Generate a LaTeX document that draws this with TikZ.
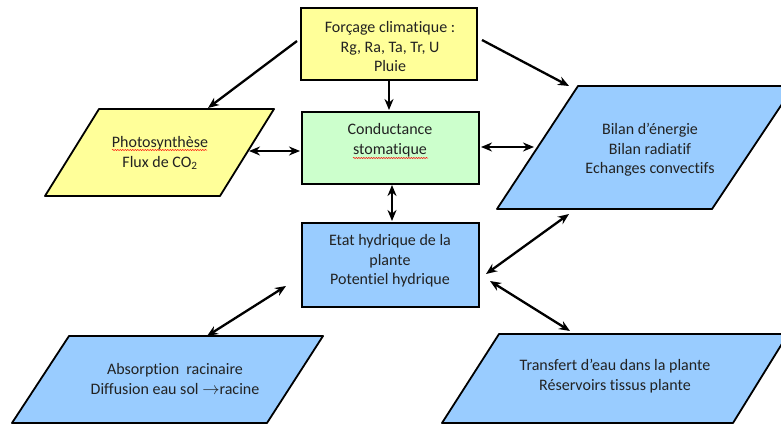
\documentclass[tikz,border=0pt]{standalone}
\usepackage{fontspec}
\setmainfont{Carlito}[Ligatures=NoCommon]
\usetikzlibrary{arrows.meta,decorations.pathmorphing}
\definecolor{fyel}{HTML}{FFFF99}
\definecolor{fgrn}{HTML}{CCFFCC}
\definecolor{fblu}{HTML}{99CCFF}
\definecolor{txt}{HTML}{222222}
\begin{document}
\begin{tikzpicture}[x=1pt,y=-1pt,
 box/.style={draw=black, line width=1.8pt, inner sep=0pt},
 shp/.style={draw=black, line width=1.8pt, line join=round},
 lbl/.style={align=center, text=txt, font=\fontsize{16}{19.5}\selectfont, inner sep=0pt},
 arr/.style={line width=2.3pt, -{Stealth[length=11pt,width=9pt]}},
 darr/.style={line width=2.3pt, {Stealth[length=11pt,width=9pt]}-{Stealth[length=11pt,width=9pt]}},
 squig/.style={red, line width=0.5pt, decorate, decoration={snake, amplitude=0.6pt, segment length=2.5pt}}]
\useasboundingbox (0,0) rectangle (781,425);
\fill[white] (0,0) rectangle (781,425);
\begin{scope}
\clip (0,0) rectangle (781,425);
% parallelograms
\draw[shp, fill=fyel] (99,109) -- (274,109) -- (220,196) -- (45,196) -- cycle;
\draw[shp, fill=fblu] (578,86) -- (794,86) -- (712,209) -- (497,209) -- cycle;
\draw[shp, fill=fblu] (69,336) -- (323,336) -- (267,423) -- (12,423) -- cycle;
\draw[shp, fill=fblu] (499,334) -- (788,334) -- (733,423) -- (442,423) -- cycle;
\end{scope}
% rectangles
\node[box, fill=fyel, minimum width=176pt, minimum height=72pt] (forc) at (389,44) {};
\node[box, fill=fgrn, minimum width=177pt, minimum height=72pt] (cond) at (390.5,148) {};
\node[box, fill=fblu, minimum width=177pt, minimum height=84pt] (etat) at (390.5,265) {};
% texts
\node[lbl] (tforc) at (390,47) {Forçage climatique :\\Rg, Ra, Ta, Tr, U\\Pluie};
\node[lbl] (tcond) at (390,140) {Conductance\\stomatique};
\node[lbl] (tetat) at (390,261) {Etat hydrique de la\\plante\\Potentiel hydrique};
\node[lbl] (tphot) at (160,153) {Photosynthèse\\Flux de CO\textsubscript{2}};
\node[lbl] (tbil) at (650,150) {Bilan d’énergie\\Bilan radiatif\\Echanges convectifs};
\node[lbl] (tabs) at (175,379) {Absorption\ \ racinaire\\Diffusion eau sol $\rightarrow$racine};
\node[lbl] (ttra) at (615,376) {Transfert d’eau dans la plante\\Réservoirs tissus plante};
% spell-check squiggles
\draw[squig] (112,150) -- (207,150);
\draw[squig] (353,158) -- (428,158);
% connector end points
\coordinate (a1s) at (297,41);   \coordinate (a1e) at (208,108);
\coordinate (a2s) at (389,81);   \coordinate (a2e) at (389,110);
\coordinate (a3s) at (482,40);   \coordinate (a3e) at (569,86);
\coordinate (a4s) at (249,151);  \coordinate (a4e) at (300,151);
\coordinate (a5s) at (481,147);  \coordinate (a5e) at (534,147);
\coordinate (a6s) at (392,185);  \coordinate (a6e) at (392,221);
\coordinate (a7s) at (207,336);  \coordinate (a7e) at (286,286);
\coordinate (a8s) at (486,274);  \coordinate (a8e) at (569,214);
\coordinate (a9s) at (490,281);  \coordinate (a9e) at (570,331);
% connectors
\draw[arr] (a1s) -- (a1e);
\draw[arr] (a2s) -- (a2e);
\draw[arr] (a3s) -- (a3e);
\draw[darr] (a4s) -- (a4e);
\draw[darr] (a5s) -- (a5e);
\draw[darr] (a6s) -- (a6e);
\draw[darr] (a7s) -- (a7e);
\draw[darr] (a8s) -- (a8e);
\draw[darr] (a9s) -- (a9e);
\end{tikzpicture}
\end{document}
